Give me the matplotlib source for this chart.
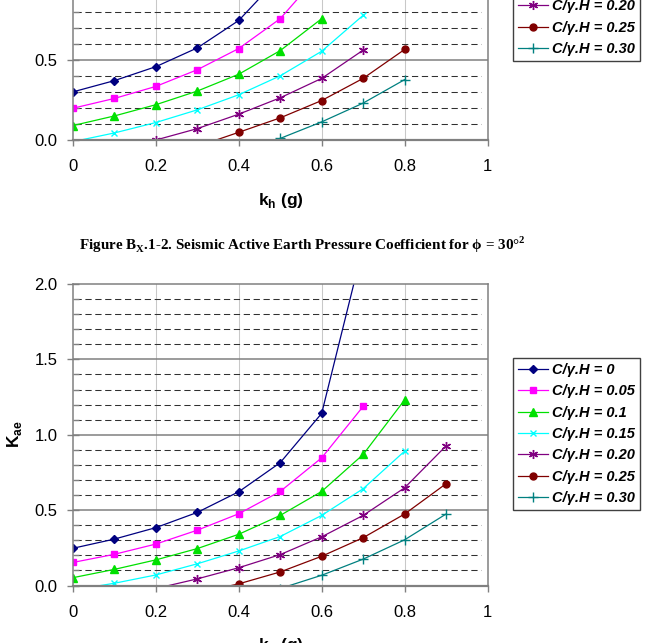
import matplotlib
matplotlib.use("Agg")
import matplotlib.pyplot as plt
from matplotlib.ticker import MultipleLocator, FixedLocator

plt.rcParams['font.family'] = ['Liberation Sans', 'DejaVu Sans']

# horizontal acceleration kh (g)
kh = [0.0, 0.1, 0.2, 0.3, 0.4, 0.5, 0.6, 0.7, 0.8, 0.9]
x_ticks = [0, 0.2, 0.4, 0.6, 0.8, 1.0]
x_tick_labels = ["0", "0.2", "0.4", "0.6", "0.8", "1"]
labels = ["C/γ.H = 0", "C/γ.H = 0.05", "C/γ.H = 0.1", "C/γ.H = 0.15",
          "C/γ.H = 0.20", "C/γ.H = 0.25", "C/γ.H = 0.30"]

# upper chart (only the lower part is visible) -- first kh index, values
top_start = [0, 0, 0, 0, 1, 3, 4]
top_c000 = [0.30, 0.37, 0.457, 0.574, 0.745, 1.02, 1.50]
top_c005 = [0.198, 0.259, 0.334, 0.438, 0.57, 0.756, 1.05]
top_c010 = [0.09, 0.15, 0.22, 0.305, 0.41, 0.557, 0.756]
top_c015 = [-0.01, 0.044, 0.109, 0.188, 0.282, 0.40, 0.553, 0.777]
top_c020 = [-0.04, 0.0, 0.071, 0.161, 0.263, 0.384, 0.56]
top_c025 = [-0.04, 0.048, 0.138, 0.246, 0.384, 0.564]
top_c030 = [-0.06, 0.01, 0.113, 0.23, 0.376]
top_y_labels = ["0.0", "0.5", "", "", ""]

# lower chart, phi = 30
bot_start = [0, 0, 0, 0, 2, 3, 5]
bot_c000 = [0.247, 0.308, 0.384, 0.485, 0.622, 0.815, 1.142, 2.25]
bot_c005 = [0.153, 0.207, 0.275, 0.367, 0.476, 0.624, 0.847, 1.188]
bot_c010 = [0.052, 0.107, 0.17, 0.245, 0.34, 0.465, 0.624, 0.869, 1.231]
bot_c015 = [-0.03, 0.015, 0.07, 0.144, 0.229, 0.325, 0.465, 0.642, 0.891]
bot_c020 = [-0.02, 0.044, 0.118, 0.205, 0.323, 0.465, 0.648, 0.926]
bot_c025 = [-0.05, 0.011, 0.09, 0.194, 0.317, 0.474, 0.675]
bot_c030 = [-0.02, 0.068, 0.175, 0.303, 0.474]
bot_y_labels = ["0.0", "0.5", "1.0", "1.5", "2.0"]

styles = [
    dict(color="#000080", marker="D", ms=4.2),
    dict(color="#FF00FF", marker="s", ms=4.5),
    dict(color="#00E000", marker="^", ms=5.5),
    dict(color="#00FFFF", marker="x", ms=5, mew=1),
    dict(color="#800080", marker=(6, 2, 0), ms=6.5, mew=1),
    dict(color="#800000", marker="o", ms=5),
    dict(color="#008080", marker="+", ms=6.5, mew=1),
]

W, H = 649, 643
fig = plt.figure(figsize=(W / 100, H / 100), dpi=100)


def px_axes(left, right, top, bottom):
    return fig.add_axes([left / W, 1 - bottom / H, (right - left) / W, (bottom - top) / H])


def draw_chart(ax, starts, series, y_labels, legend_bottom):
    for xv in x_ticks[1:-1]:
        ax.axvline(xv, color="#c8c8c8", lw=0.75, zorder=0)
    for i in range(1, 20):
        yv = i / 10
        if i % 5 == 0:
            ax.axhline(yv, color="#808080", lw=1.1, zorder=0)
        else:
            ax.axhline(yv, xmin=0.005, xmax=0.985, color="#303030", lw=0.75,
                       ls=(0, (6, 3.5)), zorder=0)
    for lab, s0, vals, st in zip(labels, starts, series, styles):
        ax.plot(kh[s0:s0 + len(vals)], vals, lw=0.9, label=lab, **st)
    ax.set_xlim(0, 1)
    ax.set_ylim(0, 2)
    ax.xaxis.set_major_locator(FixedLocator(x_ticks))
    ax.set_xticklabels(x_tick_labels)
    ax.yaxis.set_major_locator(FixedLocator([0, 0.5, 1.0, 1.5, 2.0]))
    ax.set_yticklabels(y_labels)
    ax.yaxis.set_minor_locator(MultipleLocator(0.1))
    ax.tick_params(axis="x", direction="out", length=4, width=1, color="#808080",
                   labelsize=12, pad=10)
    ax.tick_params(axis="y", which="major", direction="inout", length=8, width=1,
                   color="#808080", labelsize=12, pad=7)
    ax.tick_params(axis="y", which="minor", direction="in", length=4, width=1,
                   color="#808080")
    for side in ["left", "bottom", "top", "right"]:
        ax.spines[side].set_color("#808080")
        ax.spines[side].set_linewidth(1.1)
    ax.spines["bottom"].set_linewidth(1.6)
    ax.legend(loc="lower right", bbox_to_anchor=(640 / W, 1 - legend_bottom / H),
              bbox_transform=fig.transFigure, borderaxespad=0, fancybox=False,
              edgecolor="#404040", framealpha=1,
              prop=dict(family="Liberation Sans", weight="bold", style="italic", size=10.5),
              handlelength=2.0, handletextpad=0.3, labelspacing=0.5, borderpad=0.35)
    ax.get_legend().get_frame().set_linewidth(1.0)


ax_top = px_axes(73, 487.5, 140 - 2 * 160.5, 140)
draw_chart(ax_top, top_start,
           [top_c000, top_c005, top_c010, top_c015, top_c020, top_c025, top_c030],
           top_y_labels, 61)

ax_bot = px_axes(73, 487.5, 284, 585.5)
draw_chart(ax_bot, bot_start,
           [bot_c000, bot_c005, bot_c010, bot_c015, bot_c020, bot_c025, bot_c030],
           bot_y_labels, 510)

fig.text(280.5 / W, 1 - 200 / H, r"k$_\mathregular{h}$ (g)", ha="center", va="center",
         fontsize=12.5, fontweight="bold")
fig.text(280.5 / W, 1 - 645.5 / H, r"k$_\mathregular{h}$ (g)", ha="center", va="center",
         fontsize=12.5, fontweight="bold")
fig.text(14 / W, 1 - 434 / H, r"K$_\mathregular{ae}$", ha="center", va="center",
         rotation=90, fontsize=12.5, fontweight="bold")

fig.text(302 / W, 1 - 245 / H,
         r"Figure B$_\mathregular{X}$.1-2. Seismic Active Earth Pressure Coefficient for ϕ = 30°$^\mathregular{2}$",
         ha="center", va="center", fontsize=10.9, fontweight="bold",
         family=["Liberation Serif", "DejaVu Serif"])

fig.savefig("out.png", dpi=100)
